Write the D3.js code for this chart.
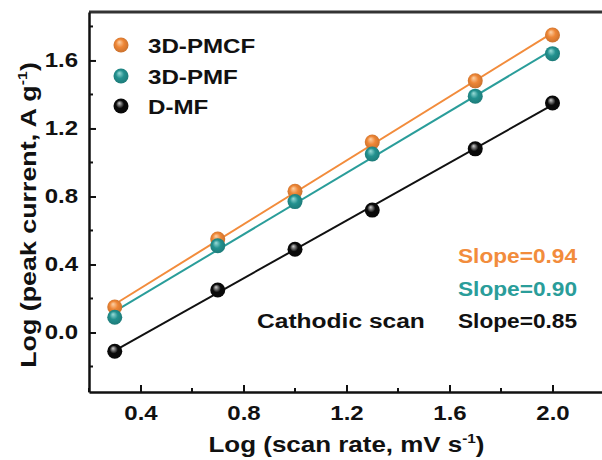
<!DOCTYPE html>
<html lang="en">
  <head>
    <meta charset="UTF-8" />
    <script src="https://cdn.jsdelivr.net/npm/d3@7"></script>
    <style>
      * {
        margin: 0;
        padding: 0;
      }
      body {
        background: #fff;
      }
      svg text {
        font-family: 'Liberation Sans', Arial, sans-serif;
        font-weight: bold;
      }
    </style>
    <title>Log peak current vs log scan rate</title>
  </head>
  <body>
    <div id="chart"></div>
  </body>
  <script>
    // data
    const scanRate = [0.3, 0.7, 1.0, 1.3, 1.7, 2.0];
    const pmcf = [0.15, 0.55, 0.83, 1.12, 1.48, 1.75];
    const pmf = [0.09, 0.51, 0.77, 1.05, 1.39, 1.64];
    const dmf = [-0.11, 0.25, 0.49, 0.72, 1.08, 1.35];
    const seriesNames = ['3D-PMCF', '3D-PMF', 'D-MF'];
    const slopeLabels = ['Slope=0.94', 'Slope=0.90', 'Slope=0.85'];
    const xTicks = [0.4, 0.8, 1.2, 1.6, 2.0];
    const xMinor = [0.2, 0.6, 1.0, 1.4, 1.8];
    const yTicks = [0.0, 0.4, 0.8, 1.2, 1.6];
    const yMinor = [-0.2, 0.2, 0.6, 1.0, 1.4, 1.8];

    const colors = {
      '3D-PMCF': { base: '#ee8636', light: '#fcd2a8' },
      '3D-PMF': { base: '#23918f', light: '#9adcd8' },
      'D-MF': { base: '#0a0a0a', light: '#d0d0d0' },
    };
    const lineColors = { '3D-PMCF': '#f28c3c', '3D-PMF': '#2a9d9a', 'D-MF': '#111' };

    const width = 602;
    const height = 460;
    const mLeft = 89, mRight = 604, mTop = 12, mBottom = 392;
    const SX = 1.15; // the picture's text is a bit wide

    const x = d3.scaleLinear().domain([0.2, 2.2]).range([mLeft, mRight]);
    const y = d3.scaleLinear().domain([-0.35, 1.885]).range([mBottom, mTop]);

    const svg = d3
      .select('#chart')
      .append('svg')
      .attr('width', width)
      .attr('height', height);

    const defs = svg.append('defs');
    seriesNames.forEach((name, i) => {
      const grad = defs
        .append('radialGradient')
        .attr('id', `ball-${i}`)
        .attr('cx', '0.5')
        .attr('cy', '0.5')
        .attr('fx', '0.38')
        .attr('fy', '0.3')
        .attr('r', '0.6');
      grad.append('stop').attr('offset', '0%').attr('stop-color', colors[name].light);
      grad.append('stop').attr('offset', '45%').attr('stop-color', colors[name].base);
      grad.append('stop').attr('offset', '100%').attr('stop-color', d3.color(colors[name].base).darker(0.6));
    });

    const series = seriesNames.map((name, i) => ({
      name,
      idx: i,
      values: [pmcf, pmf, dmf][i].map((v, j) => ({ x: scanRate[j], y: v })),
    }));

    // least squares fit through each series
    function fit(values) {
      const n = values.length;
      const mx = d3.mean(values, (d) => d.x);
      const my = d3.mean(values, (d) => d.y);
      const sxy = d3.sum(values, (d) => (d.x - mx) * (d.y - my));
      const sxx = d3.sum(values, (d) => (d.x - mx) * (d.x - mx));
      const b = sxy / sxx;
      const a = my - b * mx;
      const x0 = values[0].x, x1 = values[n - 1].x;
      return [
        { x: x0, y: a + b * x0 },
        { x: x1, y: a + b * x1 },
      ];
    }

    // stretched text helper
    function stext(g, str, tx, ty, opts = {}) {
      const t = g
        .append('text')
        .attr('transform', `translate(${tx},${ty})${opts.rotate ? ' rotate(' + opts.rotate + ')' : ''} scale(${opts.sx || SX},1)`)
        .attr('text-anchor', opts.anchor || 'start')
        .attr('font-size', opts.size || 21)
        .attr('fill', opts.fill || '#111');
      if (str !== null) t.text(str);
      return t;
    }

    // frame (top and right)
    svg
      .append('path')
      .attr('d', `M${mLeft},${mTop}H${mRight}V${mBottom}`)
      .attr('fill', 'none')
      .attr('stroke', '#333')
      .attr('stroke-width', 3);

    // fit lines
    const line = d3
      .line()
      .x((d) => x(d.x))
      .y((d) => y(d.y));
    svg
      .append('g')
      .selectAll('path')
      .data(series)
      .join('path')
      .attr('d', (d) => line(fit(d.values)))
      .attr('fill', 'none')
      .attr('stroke', (d) => lineColors[d.name])
      .attr('stroke-width', 2);

    // markers: black first, then orange, teal on top
    const order = [2, 0, 1];
    svg
      .append('g')
      .selectAll('g')
      .data(order.map((i) => series[i]))
      .join('g')
      .selectAll('circle')
      .data((d) => d.values.map((v) => ({ ...v, idx: d.idx })))
      .join('circle')
      .attr('cx', (d) => x(d.x))
      .attr('cy', (d) => y(d.y))
      .attr('r', 7.5)
      .attr('fill', (d) => `url(#ball-${d.idx})`);

    // axes with inward ticks
    const xAxisG = svg
      .append('g')
      .attr('transform', `translate(0,${mBottom})`)
      .call(d3.axisBottom(x).tickValues(xTicks).tickSizeInner(-7).tickSizeOuter(0).tickPadding(14).tickFormat(d3.format('.1f')));
    xAxisG
      .append('g')
      .selectAll('line')
      .data(xMinor)
      .join('line')
      .attr('x1', (d) => x(d))
      .attr('x2', (d) => x(d))
      .attr('y1', 0)
      .attr('y2', -4)
      .attr('stroke', '#111')
      .attr('stroke-width', 2);

    const yAxisG = svg
      .append('g')
      .attr('transform', `translate(${mLeft},0)`)
      .call(d3.axisLeft(y).tickValues(yTicks).tickSizeInner(-7).tickSizeOuter(0).tickPadding(11).tickFormat(d3.format('.1f')));
    yAxisG
      .append('g')
      .selectAll('line')
      .data(yMinor)
      .join('line')
      .attr('x1', 0)
      .attr('x2', 4)
      .attr('y1', (d) => y(d))
      .attr('y2', (d) => y(d))
      .attr('stroke', '#111')
      .attr('stroke-width', 2);

    [xAxisG, yAxisG].forEach((g) => {
      g.attr('font-family', null);
      g.select('.domain').attr('stroke', '#111').attr('stroke-width', 2.5);
      g.selectAll('.tick line').attr('stroke', '#111').attr('stroke-width', 2);
      g.selectAll('.tick text')
        .attr('font-size', 20)
        .attr('fill', '#111')
        .each(function () {
          const t = d3.select(this);
          const tx = +t.attr('x') || 0;
          const ty = +t.attr('y') || 0;
          t.attr('x', null).attr('y', null).attr('transform', `translate(${tx},${ty}) scale(1.2,1)`);
        });
    });

    // axis titles
    const xt = stext(svg, null, (mLeft + mRight) / 2, 452, { anchor: 'middle', size: 22, sx: 1.18 });
    xt.append('tspan').text('Log (scan rate, mV s');
    xt.append('tspan').attr('font-size', 13).attr('dy', -9).text('-1');
    xt.append('tspan').attr('dy', 9).text(')');

    const yt = stext(svg, null, 36, 215, { anchor: 'middle', size: 22, rotate: -90, sx: 1.22 });
    yt.append('tspan').text('Log (peak current, A g');
    yt.append('tspan').attr('font-size', 13).attr('dy', -9).text('-1');
    yt.append('tspan').attr('dy', 9).text(')');

    // legend
    const legendY = [45, 76, 106];
    const legend = svg.append('g');
    series.forEach((s, i) => {
      legend
        .append('circle')
        .attr('cx', 121)
        .attr('cy', legendY[i])
        .attr('r', 7.5)
        .attr('fill', `url(#ball-${i})`);
      stext(legend, s.name, 148, legendY[i] + 8, { size: 21, sx: 1.15 });
    });

    // annotations
    const slopeY = [263, 296, 328];
    slopeLabels.forEach((lab, i) => {
      stext(svg, lab, 458, slopeY[i], { size: 21, sx: 1.08, fill: lineColors[seriesNames[i]] });
    });
    stext(svg, 'Cathodic scan', 257, 328, { size: 21, sx: 1.17 });
  </script>
</html>
